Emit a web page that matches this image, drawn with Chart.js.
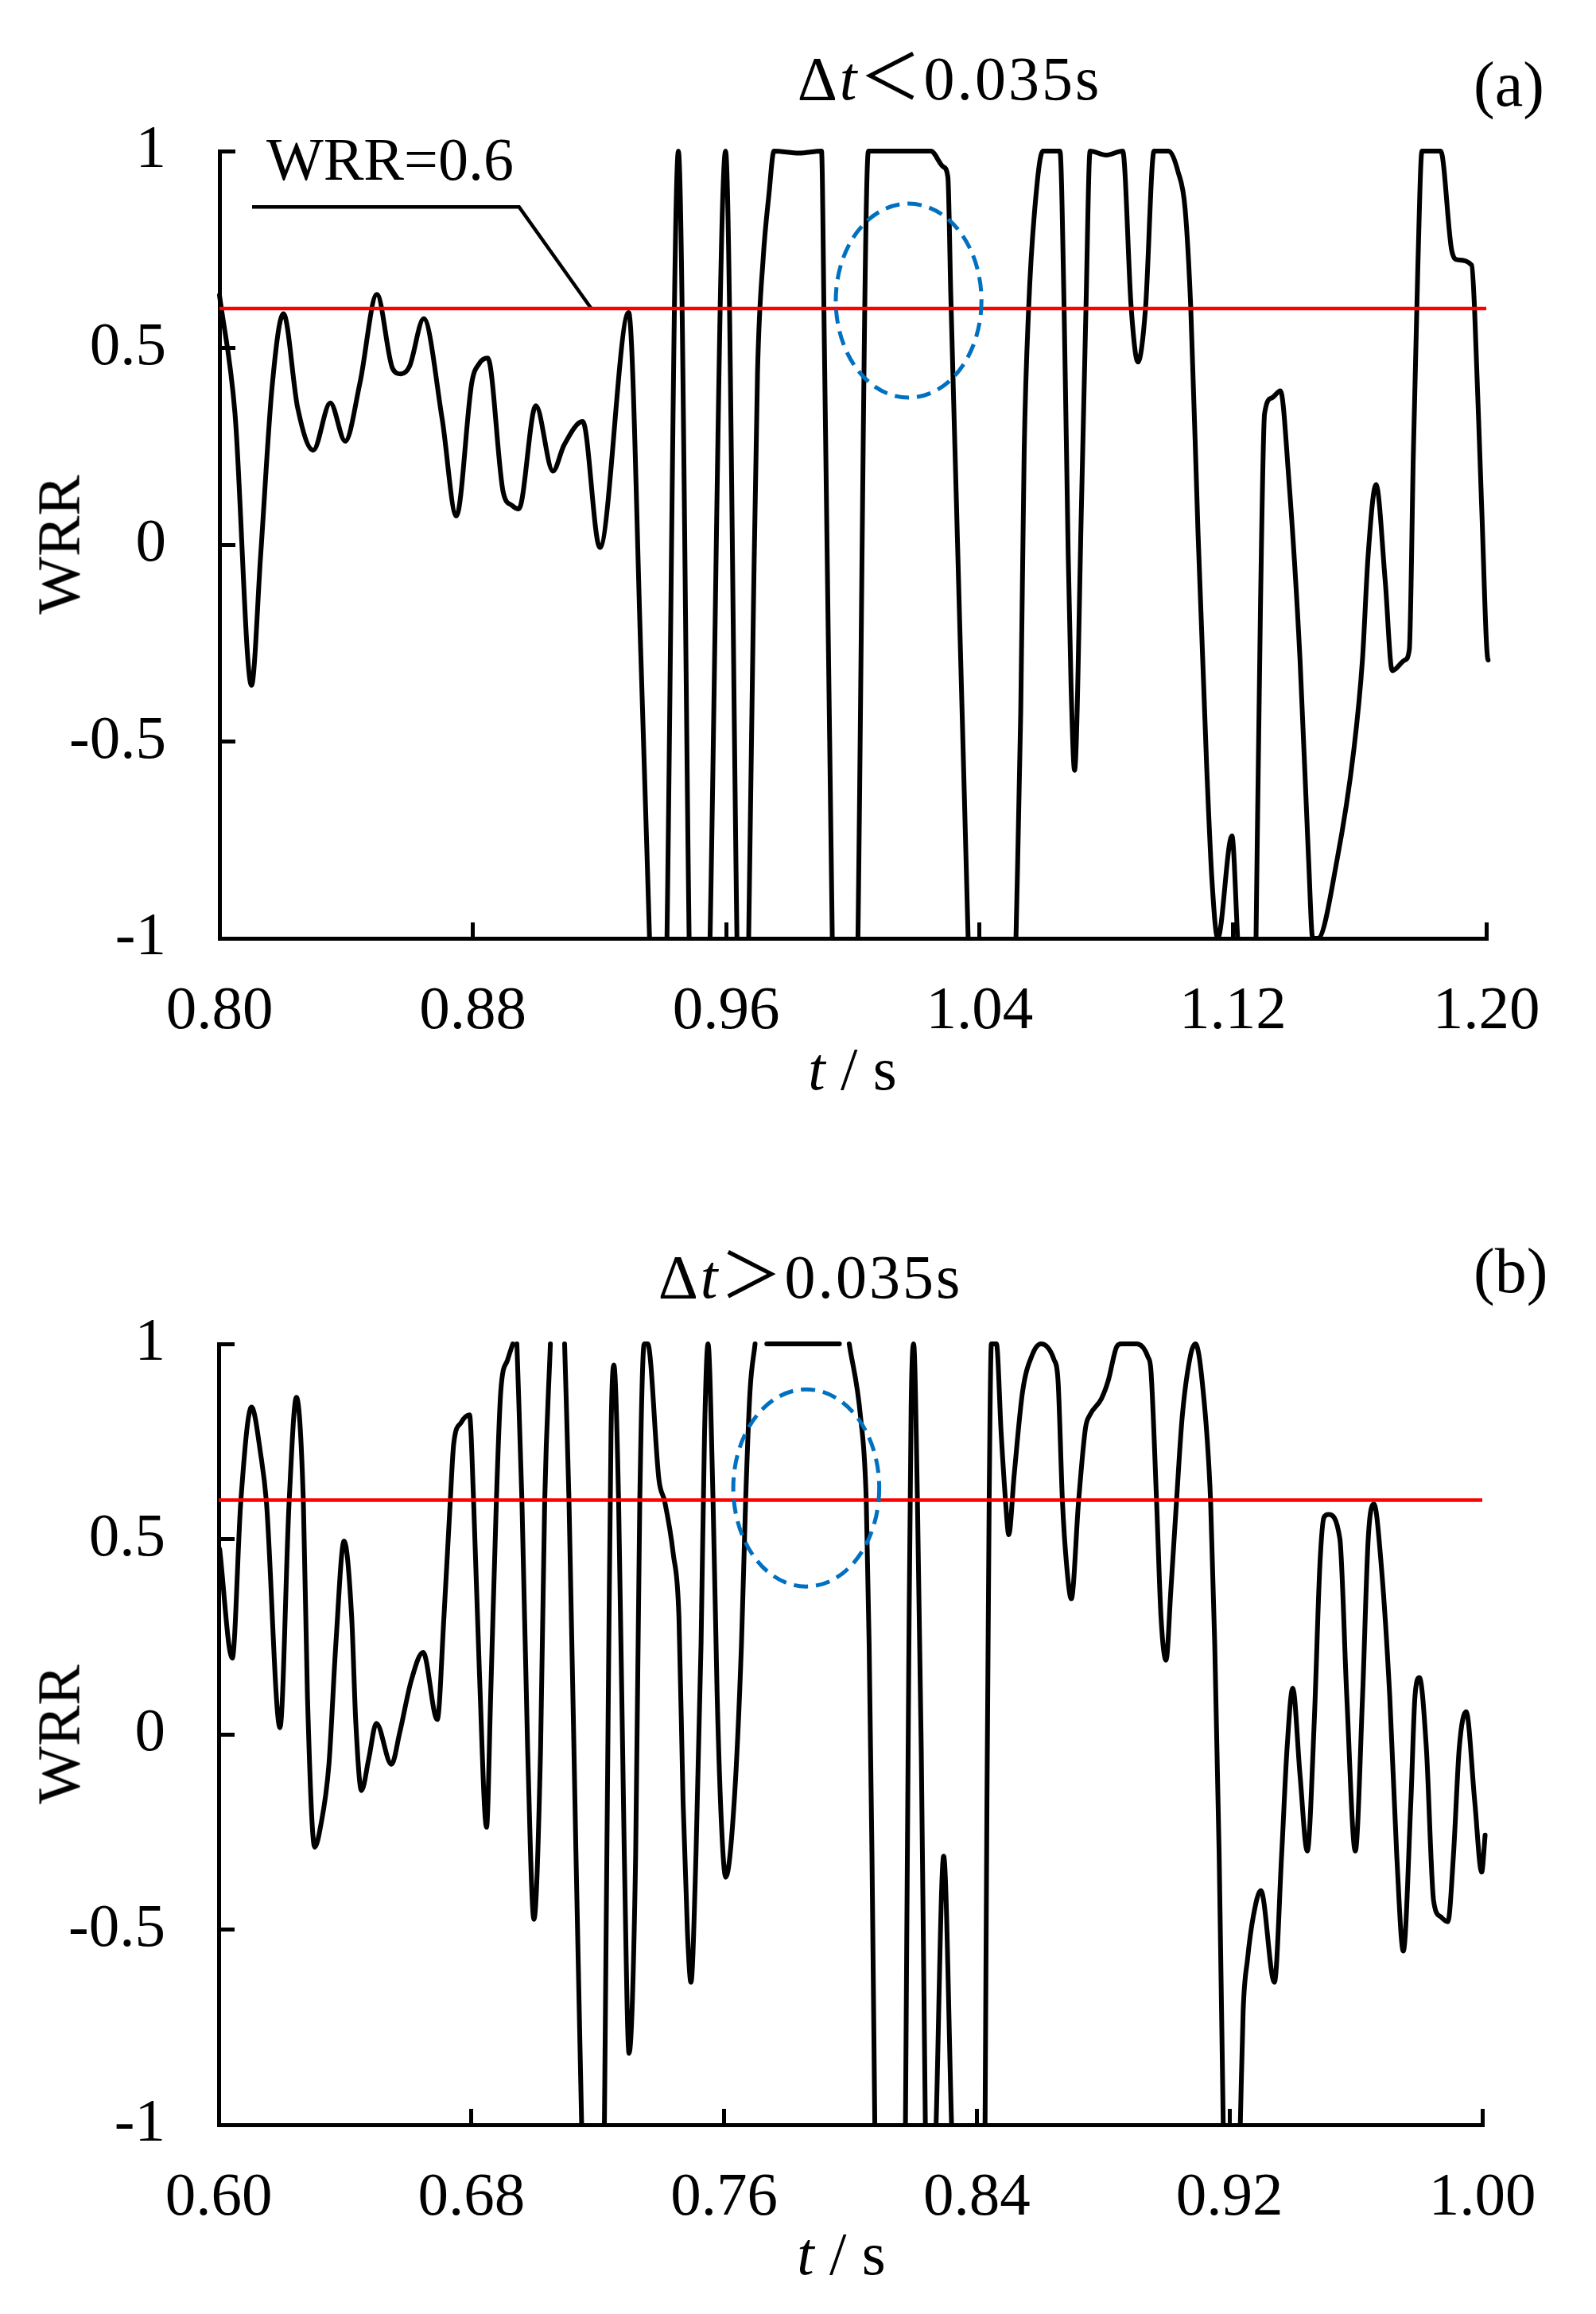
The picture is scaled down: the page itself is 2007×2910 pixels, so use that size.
<!DOCTYPE html>
<html>
<head>
<meta charset="utf-8">
<script src="https://cdn.jsdelivr.net/npm/chart.js@4.4.0/dist/chart.umd.min.js"></script>
<style>
  html, body { margin: 0; padding: 0; background: #fff; }
  body { width: 2007px; height: 2910px; position: relative; overflow: hidden;
         font-family: "Liberation Serif", "Times New Roman", serif; color: #000; }
  .box { position: absolute; left: 0; width: 2007px; }
  .txt { position: absolute; white-space: nowrap; line-height: 1; }
  .title { font-size: 78px; letter-spacing: 3px; transform: translateX(-50%);
           font-family: "Liberation Serif", "Noto Sans CJK SC", serif; }
  .tag { font-size: 80px; }
  .xlab { font-size: 77px; transform: translateX(-50%); }
  .ylab { font-size: 77px; transform: translate(-50%, -50%) rotate(-90deg); }
</style>
</head>
<body>
<div class="txt title" style="left:1194px; top:60px">Δ<i>t</i>＜0.035s</div>
<div class="txt tag" style="left:1853px; top:66px">(a)</div>
<div class="box" style="top:0; height:1330px"><canvas id="chartA"></canvas></div>
<div class="txt xlab" style="left:1072px; top:1306px"><i>t</i> / s</div>
<div class="txt ylab" style="left:74px; top:685px">WRR</div>

<div class="txt title" style="left:1019px; top:1567px">Δ<i>t</i>＞0.035s</div>
<div class="txt tag" style="left:1853px; top:1558px">(b)</div>
<div class="box" style="top:1500px; height:1322px"><canvas id="chartB"></canvas></div>
<div class="txt xlab" style="left:1058px; top:2796px"><i>t</i> / s</div>
<div class="txt ylab" style="left:74px; top:2181px">WRR</div>

<script>
// (a) dt < 0.035 s : time [s] and WRR, null = curve leaves the plot
const tA = [
  0.8000,0.8049,0.8101,0.8130,0.8166,0.8202,0.8247,0.8296,0.8350,0.8397,
  0.8444,0.8497,0.8547,0.8573,0.8600,0.8645,0.8703,0.8748,0.8797,0.8820,
  0.8847,0.8896,0.8923,0.8945,0.8999,0.9053,0.9088,0.9147,0.9201,0.9292,
  0.9331,0.9358,0.9385,0.9413,0.9449,0.9483,0.9516,0.9549,0.9598,0.9634,
  0.9652,0.9671,0.9686,0.9699,0.9717,0.9735,0.9751,0.9830,0.9901,0.9910,
  0.9935,0.9975,1.0016,1.0049,1.0246,1.0286,1.0300,1.0309,1.0327,1.0345,
  1.0364,1.0440,1.0515,1.0530,1.0541,1.0555,1.0573,1.0600,1.0654,1.0667,
  1.0680,1.0689,1.0700,1.0722,1.0736,1.0749,1.0800,1.0852,1.0879,1.0900,
  1.0924,1.0951,1.0996,1.1027,1.1049,1.1067,1.1090,1.1117,1.1134,1.1152,
  1.1197,1.1215,1.1244,1.1273,1.1287,1.1300,1.1323,1.1350,1.1376,1.1412,
  1.1439,1.1452,1.1468,1.1529,1.1582,1.1609,1.1627,1.1652,1.1681,1.1703,
  1.1743,1.1757,1.1770,1.1784,1.1797,1.1856,1.1891,1.1909,1.1954,1.1963,
  1.1985,1.2006,1.2019
];
const wA = [
  0.634,0.333,-0.357,-0.027,0.400,0.587,0.347,0.240,0.360,0.263,
  0.413,0.636,0.447,0.434,0.453,0.574,0.320,0.073,0.413,0.460,
  0.474,0.133,0.100,0.091,0.353,0.187,0.253,0.313,-0.007,0.590,
  -0.293,-1,null,-1,1,-1,null,-1,1,-1,
  null,-1,-0.160,0.440,0.730,0.890,1,0.995,1,0.507,
  -1,null,-1,1,1,0.960,0.934,0.640,0.107,-0.427,
  -1,null,-1,-0.427,0.240,0.600,0.840,1,1,0.600,
  -0.027,-0.360,-0.573,0.107,0.600,1,0.990,1,0.600,0.464,
  0.600,1,1,0.947,0.854,0.600,0.027,-0.560,-0.854,-1,
  -0.740,-1,null,-1,-0.160,0.333,0.373,0.391,0.173,-0.293,
  -0.800,-1,-1,-0.800,-0.520,-0.293,-0.027,0.153,-0.093,-0.320,
  -0.293,-0.267,0.240,0.707,1,1,0.747,0.724,0.710,0.600,
  0.107,-0.293,-0.107
];

// (b) dt > 0.035 s
const tB = [
  0.6003,0.6043,0.6070,0.6104,0.6133,0.6151,0.6194,0.6223,0.6246,0.6268,
  0.6281,0.6304,0.6322,0.6349,0.6371,0.6397,0.6421,0.6434,0.6452,0.6475,
  0.6499,0.6547,0.6573,0.6610,0.6647,0.6692,0.6713,0.6733,0.6744,0.6767,
  0.6794,0.6807,0.6825,0.6848,0.6861,0.6879,0.6893,0.6915,0.6931,0.6938,
  0.6944,0.6960,0.6978,0.6998,0.7019,0.7032,0.7050,0.7072,0.7095,0.7109,
  0.7131,0.7149,0.7185,0.7221,0.7235,0.7242,0.7251,0.7266,0.7284,0.7299,
  0.7320,0.7333,0.7347,0.7358,0.7394,0.7412,0.7439,0.7457,0.7470,0.7484,
  0.7495,0.7511,0.7527,0.7538,0.7549,0.7565,0.7578,0.7592,0.7605,0.7632,
  0.7655,0.7668,0.7682,0.7698,0.7716,0.7735,0.7965,0.7980,0.7996,0.8032,
  0.8050,0.8059,0.8068,0.8077,0.8125,0.8174,0.8185,0.8192,0.8200,0.8212,
  0.8224,0.8237,0.8254,0.8271,0.8295,0.8320,0.8373,0.8426,0.8432,0.8439,
  0.8446,0.8462,0.8477,0.8491,0.8501,0.8518,0.8545,0.8576,0.8603,0.8644,
  0.8657,0.8671,0.8684,0.8699,0.8722,0.8744,0.8758,0.8794,0.8816,0.8843,
  0.8857,0.8906,0.8942,0.8951,0.8969,0.8983,0.8999,0.9014,0.9032,0.9050,
  0.9077,0.9092,0.9113,0.9140,0.9153,0.9167,0.9180,0.9207,0.9234,0.9243,
  0.9257,0.9275,0.9299,0.9342,0.9365,0.9382,0.9400,0.9423,0.9446,0.9468,
  0.9486,0.9499,0.9513,0.9549,0.9571,0.9598,0.9621,0.9639,0.9657,0.9680,
  0.9707,0.9729,0.9750,0.9774,0.9787,0.9801,0.9823,0.9846,0.9868,0.9891,
  0.9909,0.9927,0.9949,0.9976,0.9998,1.0009
];
const wB = [
  0.475,0.195,0.596,0.838,0.717,0.596,0.017,0.596,0.863,0.596,
  0.098,-0.289,-0.238,-0.077,0.233,0.495,0.300,0.031,-0.144,-0.063,
  0.028,-0.077,0.004,0.139,0.210,0.038,0.300,0.596,0.744,0.798,
  0.818,0.596,0.166,-0.238,0.098,0.596,0.879,0.960,1,null,
  1,0.596,-0.036,-0.474,-0.036,0.596,1,null,1,0.596,
  -0.306,-1,null,-1,0.233,0.771,0.946,0.596,-0.306,-0.817,
  -0.306,0.596,1,1,0.650,0.596,0.462,0.300,-0.171,-0.508,
  -0.635,-0.306,0.233,0.771,1,0.596,0.098,-0.238,-0.366,-0.171,
  0.233,0.596,0.879,1,null,1,1,null,1,0.812,
  0.596,0.233,-0.306,-1,null,-1,0.233,0.838,1,0.596,
  -0.036,-1,null,-1,-0.312,-1,null,-1,-0.171,0.596,
  1,1,0.771,0.596,0.511,0.663,0.879,0.973,1,0.960,
  0.906,0.596,0.435,0.347,0.596,0.785,0.818,0.859,0.906,0.993,
  1,1,0.966,0.933,0.596,0.300,0.190,0.367,0.596,0.812,
  0.973,1,0.906,0.596,0.233,-0.306,-1,null,-1,-0.709,
  -0.575,-0.467,-0.400,-0.635,-0.306,-0.036,0.118,-0.104,-0.299,0.031,
  0.435,0.556,0.563,0.502,0.098,-0.299,0.098,0.502,0.590,0.435,
  0.098,-0.306,-0.555,-0.171,0.098,0.145,-0.036,-0.427,-0.467,-0.480,
  -0.306,-0.036,0.058,-0.171,-0.353,-0.258
];

const xTicksA = [0.80, 0.88, 0.96, 1.04, 1.12, 1.20];
const xTicksB = [0.60, 0.68, 0.76, 0.84, 0.92, 1.00];
const yTicks = [-1, -0.5, 0, 0.5, 1];
const threshold = 0.6;

// callout "WRR=0.6" in panel (a)
const leaderT = [0.8103, 0.8946, 0.9174];
const leaderW = [0.858, 0.858, 0.600];

const serif = '"Liberation Serif", "Times New Roman", serif';

// dashed ring + callout text, placed through the chart scales
const marks = {
  id: 'marks',
  afterDatasetsDraw(chart, args, opts) {
    const xs = chart.scales.x, ys = chart.scales.y, c = chart.ctx;
    const r = opts.ring;
    if (r) {
      const cx = xs.getPixelForValue(r.t), cy = ys.getPixelForValue(r.w);
      const rx = Math.abs(xs.getPixelForValue(r.t + r.dt) - cx);
      const ry = Math.abs(ys.getPixelForValue(r.w + r.dw) - cy);
      c.save();
      c.strokeStyle = '#0070c0';
      c.lineWidth = 5;
      c.setLineDash([18, 10]);
      c.beginPath();
      c.ellipse(cx, cy, rx, ry, 0, 0, Math.PI * 2);
      c.stroke();
      c.restore();
    }
    const n = opts.note;
    if (n) {
      c.save();
      c.font = '76px ' + serif;
      c.fillStyle = '#000';
      c.textAlign = 'left';
      c.textBaseline = 'alphabetic';
      c.fillText(n.text, xs.getPixelForValue(n.t), ys.getPixelForValue(n.w));
      c.restore();
    }
  }
};

function pts(ts, ws) {
  return ts.map((t, i) => ({ x: t, y: ws[i] }));
}

function makeChart(id, ts, ws, xTicks, axisW, padR, extra) {
  const xmin = xTicks[0], xmax = xTicks[xTicks.length - 1];
  const datasets = [
    { data: [{ x: xmin, y: threshold }, { x: xmax, y: threshold }],
      borderColor: '#ff0000', borderWidth: 4.5, pointRadius: 0 },
    { data: pts(ts, ws), borderColor: '#000', borderWidth: 6, pointRadius: 0,
      cubicInterpolationMode: 'monotone', spanGaps: false, clip: false,
      borderJoinStyle: 'round', borderCapStyle: 'round' }
  ];
  if (extra.leader) {
    datasets.push({ data: pts(leaderT, leaderW), borderColor: '#000', borderWidth: 4.5,
      pointRadius: 0, tension: 0 });
  }
  const axisStyle = {
    grid: { drawOnChartArea: false, drawTicks: true, tickLength: -20, color: '#000', lineWidth: 5 },
    border: { display: true, color: '#000', width: 5 }
  };
  return new Chart(document.getElementById(id), {
    type: 'line',
    data: { datasets: datasets },
    options: {
      responsive: true,
      maintainAspectRatio: false,
      devicePixelRatio: 1,
      animation: false,
      events: [],
      layout: { padding: { top: 190, right: padR, bottom: 0, left: 0 } },
      plugins: {
        legend: { display: false },
        tooltip: { enabled: false },
        marks: { ring: extra.ring, note: extra.note }
      },
      scales: {
        x: Object.assign({
          type: 'linear', min: xmin, max: xmax,
          afterBuildTicks: s => { s.ticks = xTicks.map(v => ({ value: v })); },
          afterFit: s => { s.height = 150; },
          ticks: { callback: v => v.toFixed(2), color: '#000', padding: 67,
                   maxRotation: 0, autoSkip: false, font: { family: serif, size: 77 } }
        }, axisStyle),
        y: Object.assign({
          type: 'linear', min: -1, max: 1,
          afterBuildTicks: s => { s.ticks = yTicks.map(v => ({ value: v })); },
          afterFit: s => { s.width = axisW; },
          ticks: { callback: v => String(v), color: '#000', padding: 87,
                   font: { family: serif, size: 77 } }
        }, axisStyle)
      }
    },
    plugins: [marks]
  });
}

makeChart('chartA', tA, wA, xTicksA, 276, 138, {
  leader: true,
  ring: { t: 1.0176, w: 0.620, dt: 0.0230, dw: 0.2465 },
  note: { text: 'WRR=0.6', t: 0.8148, w: 0.927 }
});
makeChart('chartB', tB, wB, xTicksB, 275, 143, {
  ring: { t: 0.7860, w: 0.631, dt: 0.0231, dw: 0.2525 }
});
</script>
</body>
</html>
